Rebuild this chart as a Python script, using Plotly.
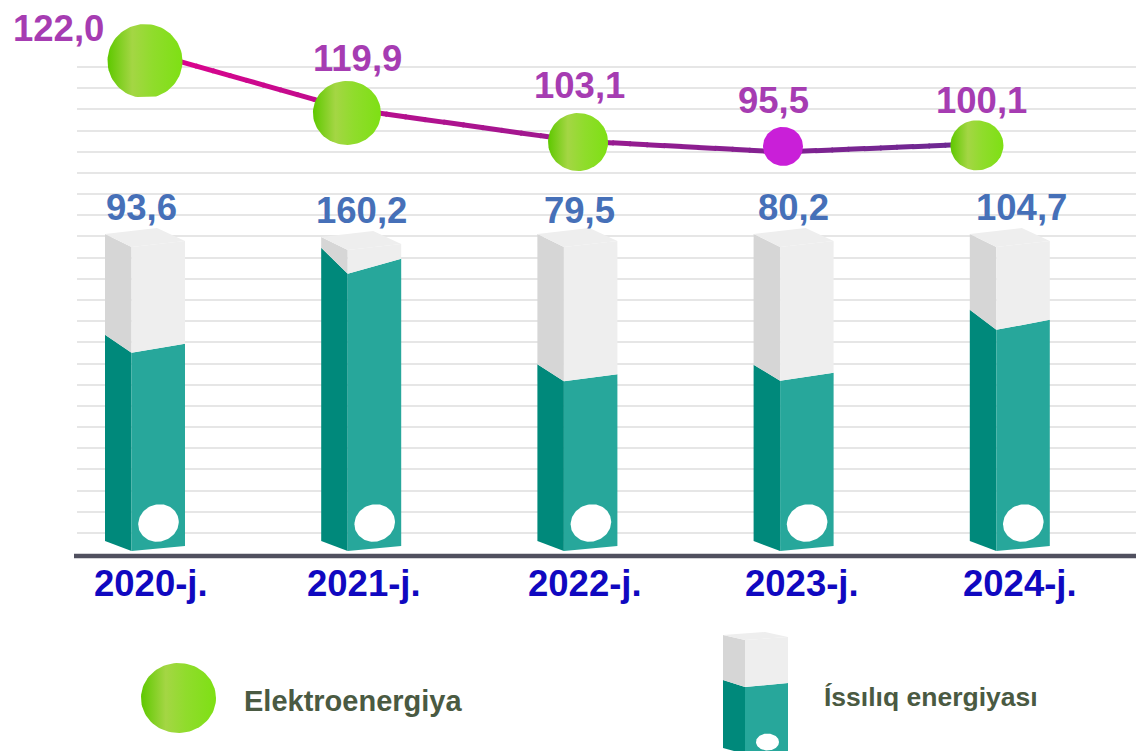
import numpy as np
import plotly.graph_objects as go

# ---------- data ----------
years = [2020, 2021, 2022, 2023, 2024]
year_labels = ["2020-j.", "2021-j.", "2022-j.", "2023-j.", "2024-j."]
heat_values = [93.6, 160.2, 79.5, 80.2, 104.7]
heat_labels = ["93,6", "160,2", "79,5", "80,2", "104,7"]
heat_box_cap = 133.0          # the 3-D box is full height at this level (2021 is cut off there)
electric_labels = ["122,0", "119,9", "103,1", "95,5", "100,1"]
# the source draws the line on its own unscaled positions
electric_level = [228.9, 202.5, 187.5, 182.4, 186.1]
electric_ball_level = [224.5, 200.5, 187.0, 185.0, 185.5]
electric_year = [2020.0, 2020.934, 2022.003, 2022.951, 2023.848]

# ---------- scales ----------
W, H = 1136, 751
PX_PER_YEAR, PX_PER_UNIT = 216.2, 2.16
X0_PX, Y0_PX = 145, 546
def xv(px): return 2020 + (px - X0_PX) / PX_PER_YEAR
def yv(px): return (Y0_PX - px) / PX_PER_UNIT
def dx(px): return px / PX_PER_YEAR
def dy(px): return px / PX_PER_UNIT
PLOT_LEFT = 77

# ---------- styles ----------
GRID = "#e6e6e6"; AXIS = "#50505f"
TEAL_SIDE = "#00897b"; TEAL_FRONT = "#27a79b"
GREY_SIDE = "#d6d6d6"; GREY_FRONT = "#eeeeee"; GREY_TOP = "#eeeeee"
BLUE = "#4670b8"; PURPLE = "#a63cb2"; NAVY = "#1008c0"; LEG = "#4a5a42"
BALL = [[0, "#5ec800"], [0.33, "#a4d644"], [0.6, "#90dc2c"], [1, "#7ee014"]]
LABEL_FONT = "Liberation Sans"

fig = go.Figure()
annotations = []

def poly(xs, ys, color=None, gradient=None):
    kw = dict(fillcolor=color) if color else dict(fillgradient=dict(type="horizontal", colorscale=gradient))
    fig.add_trace(go.Scatter(x=list(xs), y=list(ys), mode="lines", fill="toself", line=dict(width=0),
                             hoverinfo="skip", showlegend=False, cliponaxis=False, **kw))

def ellipse(cx, cy, rx, ry, color=None, gradient=None, clip_low=None, tilt=0.0):
    t = np.linspace(0, 2 * np.pi, 90)
    ox, oy = rx * np.cos(t), ry * np.sin(t)
    xs = ox * np.cos(tilt) - oy * np.sin(tilt)
    ys = ox * np.sin(tilt) + oy * np.cos(tilt)
    xs, ys = cx + dx(xs), cy + dy(ys)
    if clip_low is not None:
        ys = np.maximum(ys, clip_low)
    poly(xs, ys, color, gradient)

def text(px, py, s, color, size, family=LABEL_FONT):
    annotations.append(dict(x=px / W, y=1 - py / H, xref="paper", yref="paper", text=s, showarrow=False,
                            xanchor="center", yanchor="middle",
                            font=dict(family=family, size=size, color=color, weight="bold")))

def box(x_mid, level, base, top, fl=-10, fm=9):
    """3-D box: x_mid = front edge, levels in axis units at the right corner."""
    w_side, w_front = dx(26.5), dx(53.5)
    xl, xr = x_mid - w_side, x_mid + w_front
    b_l, b_m = base + dy(5), base - dy(5)
    poly([xl, x_mid, x_mid, xl], [b_l, b_m, level - dy(fm), level - dy(fl)], TEAL_SIDE)
    poly([x_mid, xr, xr, x_mid], [b_m, base, level, level - dy(fm)], TEAL_FRONT)
    poly([xl, x_mid, x_mid, xl], [level - dy(fl), level - dy(fm), top - dy(6), top + dy(7)], GREY_SIDE)
    poly([x_mid, xr, xr, x_mid], [level - dy(fm), level, top, top - dy(6)], GREY_FRONT)
    poly([xl, x_mid, xr, x_mid + dx(25.5)], [top + dy(7), top - dy(6), top, top + dy(13)], GREY_TOP)

# ---------- bars ----------
front_tilt = [(-9, 9), (-11, 15), (-10, 7), (-8, 8), (-10, 10)]
for yr, val, (fl, fm) in zip(years, heat_values, front_tilt):
    x_mid = yr - dx(13.5)
    lvl = min(val, heat_box_cap)
    top = yv(241) - (dy(3) if val > heat_box_cap else 0)
    box(x_mid, lvl, 0, top, fl, fm)
    ellipse(yr + dx(13.5), yv(523), 20.5, 18.5, color="#ffffff", tilt=0.35)

# ---------- line with gradient ----------
def hex2rgb(h): return [int(h[i:i + 2], 16) for i in (1, 3, 5)]
c_a, c_b = np.array(hex2rgb("#e4008c")), np.array(hex2rgb("#6a2a92"))
span = electric_year[-1] - electric_year[0]
for i in range(len(electric_year) - 1):
    x0, x1 = electric_year[i], electric_year[i + 1]
    y0, y1 = electric_level[i], electric_level[i + 1]
    for k in range(12):
        a, b = k / 12, (k + 1.1) / 12
        f = (x0 + (x1 - x0) * (a + b) / 2 - electric_year[0]) / span
        f = f ** 0.8
        col = c_a + (c_b - c_a) * f
        fig.add_trace(go.Scatter(x=[x0 + (x1 - x0) * a, x0 + (x1 - x0) * min(b, 1)],
                                 y=[y0 + (y1 - y0) * a, y0 + (y1 - y0) * min(b, 1)], mode="lines",
                                 line=dict(color=f"rgb({col[0]:.0f},{col[1]:.0f},{col[2]:.0f})", width=5),
                                 hoverinfo="skip", showlegend=False))

# ---------- balls ----------
ball_r = [(37.5, 37), (34, 32), (30, 29), (20, 19.5), (26.5, 25)]
for i, (x, y, (rx, ry)) in enumerate(zip(electric_year, electric_ball_level, ball_r)):
    if i == 3:
        ellipse(x, y, rx, ry, color="#c91fd8")
    elif i == 0:
        ellipse(x, y, rx, ry, gradient=BALL, clip_low=yv(97))
    else:
        ellipse(x, y, rx, ry, gradient=BALL)

# ---------- labels ----------
line_label_px = [(58, 28), (357, 58), (579, 86), (773, 100), (981, 100)]
for s, (px, py) in zip(electric_labels, line_label_px):
    text(px, py, s, PURPLE, 36.5)
bar_label_px = [(141, 208), (361, 211), (579, 211), (793, 208), (1021, 208)]
for s, (px, py) in zip(heat_labels, bar_label_px):
    text(px, py, s, BLUE, 36.5)
year_label_px = [151, 364, 585, 802, 1020]
for s, px in zip(year_labels, year_label_px):
    text(px, 583, s, NAVY, 36.5)

# ---------- legend ----------
ellipse(xv(178.5), yv(698), 37.5, 35, gradient=BALL)
text(353, 701, "Elektroenergiya", LEG, 29)
lx, lm, lr = xv(723), xv(745), xv(788)
poly([lx, lm, lm, lx], [yv(748), yv(754), yv(687), yv(680)], TEAL_SIDE)
poly([lm, lr, lr, lm], [yv(754), yv(751), yv(683), yv(687)], TEAL_FRONT)
poly([lx, lm, lm, lx], [yv(680), yv(687), yv(640), yv(635)], GREY_SIDE)
poly([lm, lr, lr, lm], [yv(687), yv(683), yv(637), yv(640)], GREY_FRONT)
poly([lx, lm, lr, xv(765)], [yv(635), yv(640), yv(637), yv(632)], GREY_TOP)
ellipse(xv(767.5), yv(742), 11.5, 8.5, color="#ffffff")
text(931.5, 697, "Íssılıq energiyası", LEG, 26.5)

grid_vals = [yv(533 - 21.18 * i) for i in range(23)]
fig.update_layout(
    width=W, height=H, margin=dict(l=0, r=0, t=0, b=0),
    paper_bgcolor="white", plot_bgcolor="white", showlegend=False,
    annotations=annotations,
    shapes=[dict(type="line", xref="paper", yref="y", x0=74 / W, x1=1, y0=yv(556), y1=yv(556),
                 line=dict(color=AXIS, width=4.5), layer="above")],
    xaxis=dict(domain=[PLOT_LEFT / W, 1], range=[xv(PLOT_LEFT), xv(W)], showgrid=False, zeroline=False,
               showticklabels=False, ticks="", fixedrange=True),
    yaxis=dict(domain=[0, 1], range=[yv(H), yv(0)], tickmode="array", tickvals=grid_vals, showticklabels=False,
               ticks="", showgrid=True, gridcolor=GRID, gridwidth=1.6, zeroline=False, fixedrange=True),
)
fig.write_html("out.html", config={"displayModeBar": False},
               post_script="document.body.style.margin='0';document.body.style.overflow='hidden';")
